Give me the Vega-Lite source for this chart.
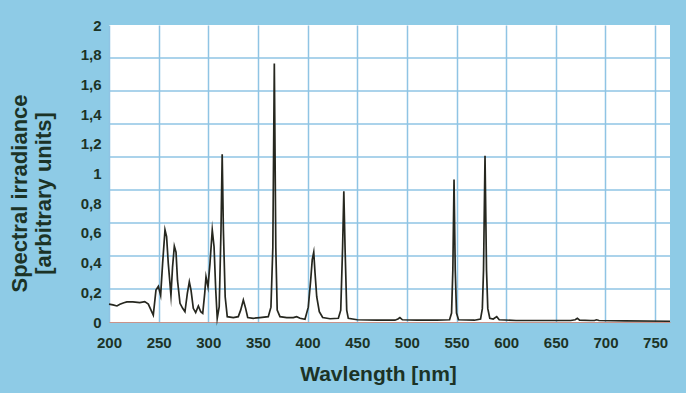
{
  "$schema": "https://vega.github.io/schema/vega-lite/v6.json",
  "autosize": {"type": "none"},
  "padding": {"left": 109, "top": 25, "right": 16, "bottom": 71},
  "width": 561,
  "height": 297,
  "background": "#8ecbe6",
  "config": {
    "view": {"fill": "#ffffff", "stroke": null},
    "font": "Liberation Sans",
    "axis": {
      "labelFont": "Liberation Sans",
      "titleFont": "Liberation Sans",
      "labelFontWeight": "bold",
      "titleFontWeight": "bold",
      "labelColor": "#1c3326",
      "titleColor": "#1c3326"
    },
    "axisY": {
      "title": ["Spectral irradiance", "[arbitrary units]"],
      "values": [0, 0.2, 0.4, 0.6, 0.8, 1, 1.2, 1.4, 1.6, 1.8, 2],
      "labelExpr": "replace(format(datum.value, ''), '.', ',')",
      "grid": false, "ticks": false, "domain": false,
      "labelFontSize": 15, "labelPadding": 8, "labelFlush": false,
      "titleFontSize": 22, "titleLineHeight": 24,
      "titleX": -90, "titleY": 168, "titleAlign": "center", "titleBaseline": "middle", "titleAngle": -90
    }
  },
  "datasets": {
    "hgrid": [
      {"v": 0.2222}, {"v": 0.4444}, {"v": 0.6667}, {"v": 0.8889},
      {"v": 1.1111}, {"v": 1.3333}, {"v": 1.5556}, {"v": 1.7778}
    ],
    "spectrum": [
      {"nm": 200, "irr": 0.12}, {"nm": 204, "irr": 0.115}, {"nm": 208, "irr": 0.108}, {"nm": 211, "irr": 0.12},
      {"nm": 215, "irr": 0.13}, {"nm": 218, "irr": 0.135}, {"nm": 224, "irr": 0.135}, {"nm": 231, "irr": 0.13},
      {"nm": 236, "irr": 0.137}, {"nm": 239.6, "irr": 0.121}, {"nm": 243, "irr": 0.07}, {"nm": 244.6, "irr": 0.047},
      {"nm": 247.3, "irr": 0.215}, {"nm": 249.7, "irr": 0.24}, {"nm": 252, "irr": 0.18}, {"nm": 254, "irr": 0.395},
      {"nm": 256.4, "irr": 0.62}, {"nm": 258, "irr": 0.575}, {"nm": 259.7, "irr": 0.395}, {"nm": 262.4, "irr": 0.18},
      {"nm": 264, "irr": 0.37}, {"nm": 265.8, "irr": 0.51}, {"nm": 267.5, "irr": 0.47}, {"nm": 269, "irr": 0.28},
      {"nm": 271.5, "irr": 0.126}, {"nm": 274.2, "irr": 0.092}, {"nm": 276.5, "irr": 0.069}, {"nm": 278.9, "irr": 0.193},
      {"nm": 280.9, "irr": 0.27}, {"nm": 282.6, "irr": 0.215}, {"nm": 284.9, "irr": 0.092}, {"nm": 287.3, "irr": 0.063},
      {"nm": 290, "irr": 0.108}, {"nm": 292.4, "irr": 0.069}, {"nm": 294.4, "irr": 0.058}, {"nm": 296.4, "irr": 0.193},
      {"nm": 297.7, "irr": 0.305}, {"nm": 299.7, "irr": 0.237}, {"nm": 301.7, "irr": 0.395}, {"nm": 304, "irr": 0.62},
      {"nm": 305.8, "irr": 0.507}, {"nm": 307.5, "irr": 0.215}, {"nm": 309, "irr": 0.025}, {"nm": 311, "irr": 0.103},
      {"nm": 312.8, "irr": 0.62}, {"nm": 314, "irr": 1.13}, {"nm": 315.2, "irr": 0.62}, {"nm": 317, "irr": 0.17},
      {"nm": 319.1, "irr": 0.036}, {"nm": 325.2, "irr": 0.03}, {"nm": 330.2, "irr": 0.036}, {"nm": 332.6, "irr": 0.08},
      {"nm": 335.3, "irr": 0.148}, {"nm": 337.6, "irr": 0.092}, {"nm": 339.7, "irr": 0.03}, {"nm": 345.3, "irr": 0.025},
      {"nm": 352, "irr": 0.03}, {"nm": 360.4, "irr": 0.036}, {"nm": 363.1, "irr": 0.1}, {"nm": 365, "irr": 0.5},
      {"nm": 366.5, "irr": 1.74}, {"nm": 368, "irr": 0.5}, {"nm": 369.4, "irr": 0.08}, {"nm": 372.2, "irr": 0.036},
      {"nm": 379, "irr": 0.03}, {"nm": 385.6, "irr": 0.03}, {"nm": 389, "irr": 0.036}, {"nm": 392.4, "irr": 0.025},
      {"nm": 397.4, "irr": 0.018}, {"nm": 400.7, "irr": 0.1}, {"nm": 403.1, "irr": 0.28}, {"nm": 404.7, "irr": 0.42},
      {"nm": 406.2, "irr": 0.47}, {"nm": 407.5, "irr": 0.33}, {"nm": 409.2, "irr": 0.17}, {"nm": 411.8, "irr": 0.069},
      {"nm": 415.2, "irr": 0.03}, {"nm": 422.6, "irr": 0.022}, {"nm": 431, "irr": 0.025}, {"nm": 433.4, "irr": 0.08},
      {"nm": 435.3, "irr": 0.51}, {"nm": 436.5, "irr": 0.88}, {"nm": 437.7, "irr": 0.51}, {"nm": 439.4, "irr": 0.08},
      {"nm": 441, "irr": 0.025}, {"nm": 450, "irr": 0.015}, {"nm": 470, "irr": 0.013}, {"nm": 488, "irr": 0.012},
      {"nm": 491, "irr": 0.02}, {"nm": 493, "irr": 0.03}, {"nm": 495.5, "irr": 0.015}, {"nm": 510, "irr": 0.012},
      {"nm": 530, "irr": 0.012}, {"nm": 543, "irr": 0.015}, {"nm": 545, "irr": 0.06}, {"nm": 546.3, "irr": 0.35},
      {"nm": 547.5, "irr": 0.96}, {"nm": 548.7, "irr": 0.35}, {"nm": 550, "irr": 0.06}, {"nm": 552, "irr": 0.015},
      {"nm": 568, "irr": 0.012}, {"nm": 574.2, "irr": 0.02}, {"nm": 576, "irr": 0.09}, {"nm": 577.2, "irr": 0.35},
      {"nm": 578.7, "irr": 1.12}, {"nm": 580.2, "irr": 0.35}, {"nm": 581.5, "irr": 0.09}, {"nm": 583.5, "irr": 0.025},
      {"nm": 587, "irr": 0.02}, {"nm": 590.5, "irr": 0.036}, {"nm": 593, "irr": 0.015}, {"nm": 610, "irr": 0.01},
      {"nm": 640, "irr": 0.01}, {"nm": 665, "irr": 0.01}, {"nm": 669.5, "irr": 0.015}, {"nm": 671.7, "irr": 0.025},
      {"nm": 674, "irr": 0.012}, {"nm": 685, "irr": 0.01}, {"nm": 689, "irr": 0.01}, {"nm": 691, "irr": 0.015},
      {"nm": 693.5, "irr": 0.01}, {"nm": 720, "irr": 0.008}, {"nm": 765, "irr": 0.005}
    ]
  },
  "layer": [
    {
      "data": {"name": "hgrid"},
      "mark": {"type": "rule", "color": "#8fc4e4", "strokeWidth": 1.5},
      "encoding": {
        "y": {"field": "v", "type": "quantitative", "scale": {"domain": [0, 2], "nice": false}, "title": ["Spectral irradiance", "[arbitrary units]"]}
      }
    },
    {
      "data": {"name": "spectrum"},
      "mark": {"type": "line", "color": "#26271f", "strokeWidth": 1.7, "strokeJoin": "miter", "strokeMiterLimit": 20},
      "encoding": {
        "x": {
          "field": "nm", "type": "quantitative",
          "scale": {"domain": [200, 765], "nice": false, "zero": false},
          "axis": {
            "title": "Wavlength [nm]",
            "values": [200, 250, 300, 350, 400, 450, 500, 550, 600, 650, 700, 750],
            "grid": true, "gridColor": "#8fc4e4", "gridWidth": 1.5,
            "ticks": false, "domain": true, "domainColor": "#c9938a", "domainWidth": 1,
            "labelFontSize": 15, "labelPadding": 13, "labelFlush": false,
            "titleFontSize": 21, "titleX": 269, "titleY": 58, "titleBaseline": "alphabetic", "titleAlign": "center"
          }
        },
        "y": {
          "field": "irr", "type": "quantitative",
          "scale": {"domain": [0, 2], "nice": false},
          "title": ["Spectral irradiance", "[arbitrary units]"]
        }
      }
    }
  ]
}
